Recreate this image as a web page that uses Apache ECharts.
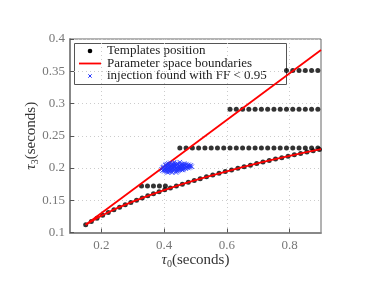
<!DOCTYPE html>
<html><head><meta charset="utf-8">
<script src="https://cdn.jsdelivr.net/npm/echarts@6/dist/echarts.min.js"></script>
<style>html,body{margin:0;padding:0;background:#fff}#c{width:374px;height:299px}</style>
</head><body><div id="c"></div>
<script>
// Templates on the lower boundary
const lowerTau0 = [0.150,0.168,0.186,0.204,0.222,0.240,0.258,0.276,0.294,0.312,0.330,0.348,0.366,0.384,0.402,0.420,0.439,0.458,0.477,0.496,0.515,0.535,0.555,0.575,0.595,0.615,0.635,0.655,0.675,0.695,0.715,0.735,0.755,0.775,0.795,0.815,0.835,0.855,0.875,0.895];
const lowerTau3 = [0.1120,0.1172,0.1221,0.1267,0.1310,0.1352,0.1391,0.1429,0.1466,0.1501,0.1535,0.1568,0.1600,0.1631,0.1661,0.1691,0.1721,0.1750,0.1779,0.1807,0.1834,0.1863,0.1890,0.1917,0.1944,0.1969,0.1995,0.2020,0.2044,0.2068,0.2092,0.2115,0.2138,0.2160,0.2182,0.2204,0.2226,0.2247,0.2268,0.2288];
// Template rows (constant tau3)
const row1Tau3 = 0.172, row1Tau0 = [0.328,0.347,0.366,0.385,0.404];
const row2Tau3 = 0.231, row2Tau0 = [0.450,0.470,0.490,0.510,0.530,0.550,0.570,0.590,0.610,0.630,0.650,0.670,0.690,0.710,0.730,0.750,0.770,0.790,0.810,0.830,0.850,0.870,0.890];
const row3Tau3 = 0.291, row3Tau0 = [0.610,0.630,0.650,0.670,0.690,0.710,0.730,0.750,0.770,0.790,0.810,0.830,0.850,0.870,0.890];
const row4Tau3 = 0.351, row4Tau0 = [0.790,0.810,0.830,0.850,0.870,0.890];
// Boundaries
const lowerBoundTau0 = [0.15,0.2,0.25,0.3,0.35,0.4,0.45,0.5,0.55,0.6,0.65,0.7,0.75,0.8,0.85,0.9];
const lowerBoundTau3 = [0.1120,0.1260,0.1378,0.1478,0.1572,0.1657,0.1737,0.1811,0.1883,0.1949,0.2013,0.2074,0.2133,0.2188,0.2242,0.2293];
const upperBoundTau0 = [0.15,0.9];
const upperBoundTau3 = [0.112,0.383];
// Injections found with FF < 0.95
const injTau0 = [0.392,0.395,0.396,0.399,0.400,0.401,0.403,0.404,0.406,0.407,0.408,0.409,0.410,0.412,0.413,0.414,0.415,0.417,0.418,0.419,0.420,0.421,0.423,0.424,0.425,0.426,0.428,0.429,0.430,0.431,0.433,0.434,0.435,0.437,0.438,0.439,0.441,0.442,0.443,0.445,0.446,0.447,0.449,0.450,0.452,0.453,0.455,0.456,0.458,0.460,0.461,0.463,0.465,0.467,0.469,0.471,0.473,0.475,0.477,0.479,0.482,0.485,0.488,
  0.397,0.402,0.405,0.409,0.411,0.414,0.416,0.419,0.422,0.424,0.427,0.430,0.432,0.435,0.437,0.440,0.442,0.445,0.448,0.451,0.454,0.457,0.459,0.462,0.466,0.470,0.474,0.478,0.483,0.406,0.412,0.418,0.425,0.432,0.438,0.444,0.450,0.457,0.464];
const injTau3 = [0.198,0.196,0.200,0.197,0.202,0.195,0.199,0.204,0.197,0.201,0.194,0.206,0.199,0.203,0.196,0.207,0.200,0.194,0.204,0.198,0.208,0.201,0.195,0.205,0.199,0.203,0.196,0.207,0.200,0.204,0.197,0.202,0.206,0.195,0.200,0.204,0.198,0.207,0.202,0.196,0.205,0.200,0.203,0.197,0.206,0.201,0.198,0.204,0.200,0.203,0.197,0.205,0.200,0.203,0.199,0.206,0.201,0.204,0.200,0.203,0.201,0.204,0.202,
  0.201,0.198,0.200,0.202,0.197,0.201,0.205,0.196,0.203,0.197,0.201,0.205,0.198,0.203,0.199,0.206,0.195,0.202,0.199,0.203,0.200,0.206,0.202,0.199,0.204,0.201,0.202,0.205,0.203,0.205,0.193,0.202,0.193,0.209,0.193,0.199,0.209,0.197,0.207];
const xTicks = [0.2,0.4,0.6,0.8];
const legendLabels = ['Templates position', 'Parameter space boundaries', 'injection found with FF < 0.95'];

const zip = (xs, ys) => xs.map((x,i)=>[x, ys[i]]);
const row = (xs, y) => xs.map(x=>[x, y]);
const templates = [].concat(zip(lowerTau0, lowerTau3), row(row1Tau0,row1Tau3), row(row2Tau0,row2Tau3), row(row3Tau0,row3Tau3), row(row4Tau0,row4Tau3));

const serif = 'Liberation Serif';
const cross = 'path://M0,0L10,10M10,0L0,10';
const blue = '#2233ff';
const rich = {
  t: {fontFamily: serif, fontStyle: 'italic', fontSize: 15, color: '#333'},
  s: {fontFamily: serif, fontSize: 10, color: '#333', verticalAlign: 'bottom', padding: [8,0,0,0]},
  n: {fontFamily: serif, fontSize: 15, color: '#333'}
};
const lgX = 74, lgY = 43, lgW = 212, lgH = 41, rowY = [51, 63.5, 76];
const chart = echarts.init(document.getElementById('c'));
chart.setOption({
  animation: false,
  backgroundColor: '#fff',
  grid: {left: 70, right: 53, top: 39, bottom: 66.5, show: true, borderColor: '#666', borderWidth: 1, backgroundColor: 'transparent'},
  xAxis: {
    type: 'value', min: 0.1, max: 0.9,
    name: '{t|τ}{s|0}{n|(seconds)}', nameLocation: 'middle', nameGap: 19, nameMoveOverlap: false,
    nameTextStyle: {rich},
    axisLine: {show: true, lineStyle: {color: '#888', width: 2}},
    axisTick: {show: true, inside: true, length: 4, customValues: xTicks, lineStyle: {color: '#555'}},
    axisLabel: {customValues: xTicks, fontFamily: serif, fontSize: 13, color: '#777', margin: 7, formatter: v => String(v)},
    splitLine: {show: true, lineStyle: {color: '#ccc', type: [1,3]}}
  },
  yAxis: {
    type: 'value', min: 0.1, max: 0.4, interval: 0.05,
    name: '{t|τ}{s|3}{n|(seconds)}', nameLocation: 'middle', nameGap: 30, nameRotate: 90, nameMoveOverlap: false,
    nameTextStyle: {rich},
    axisLine: {show: true, lineStyle: {color: '#888', width: 2}},
    axisTick: {show: true, inside: true, length: 4, lineStyle: {color: '#555'}},
    axisLabel: {fontFamily: serif, fontSize: 13, color: '#777', margin: 5, formatter: v => String(+v.toFixed(2))},
    splitLine: {show: true, lineStyle: {color: '#ccc', type: [1,3]}}
  },
  graphic: [{
    type: 'group', z: 100,
    children: [
      {type: 'rect', shape: {x: lgX + 0.5, y: lgY + 0.5, width: lgW, height: lgH}, style: {fill: '#fff', stroke: '#555', lineWidth: 1}},
      {type: 'circle', shape: {cx: 90, cy: rowY[0], r: 2.3}, style: {fill: '#000'}},
      {type: 'line', shape: {x1: 79, y1: rowY[1], x2: 101, y2: rowY[1]}, style: {stroke: '#f00', lineWidth: 1.8}},
      {type: 'polyline', shape: {points: [[88.3, rowY[2]-1.7],[91.7, rowY[2]+1.7]]}, style: {stroke: blue, lineWidth: 1}},
      {type: 'polyline', shape: {points: [[91.7, rowY[2]-1.7],[88.3, rowY[2]+1.7]]}, style: {stroke: blue, lineWidth: 1}},
      {type: 'text', x: 107, y: rowY[0], style: {text: legendLabels[0], fontFamily: serif, fontSize: 13, fill: '#222', verticalAlign: 'middle'}},
      {type: 'text', x: 107, y: rowY[1], style: {text: legendLabels[1], fontFamily: serif, fontSize: 13, fill: '#222', verticalAlign: 'middle'}},
      {type: 'text', x: 107, y: rowY[2], style: {text: legendLabels[2], fontFamily: serif, fontSize: 13, fill: '#222', verticalAlign: 'middle'}}
    ]
  }],
  series: [
    {name: legendLabels[0], type: 'scatter', symbol: 'circle', symbolSize: 5, itemStyle: {color: '#000'}, data: templates, z: 3},
    {name: legendLabels[1], type: 'line', symbol: 'none', lineStyle: {color: '#f00', width: 1.8}, data: zip(lowerBoundTau0, lowerBoundTau3), z: 4},
    {name: legendLabels[1], type: 'line', symbol: 'none', lineStyle: {color: '#f00', width: 1.8}, data: zip(upperBoundTau0, upperBoundTau3), z: 4},
    {name: legendLabels[2], type: 'scatter', symbol: cross, symbolSize: 4.5, itemStyle: {color: 'none', borderColor: blue, borderWidth: 1}, data: zip(injTau0, injTau3), z: 5}
  ]
});
</script></body></html>
